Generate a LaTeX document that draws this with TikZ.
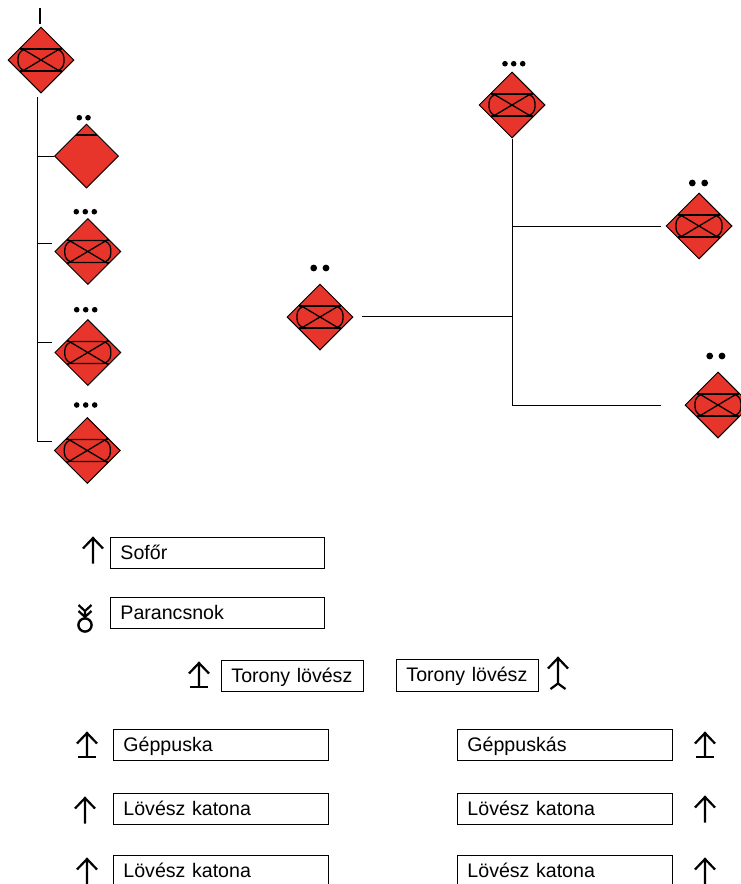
\documentclass[tikz,border=0pt]{standalone}
\usepackage{fontspec}
\setmainfont{Liberation Sans}
\usetikzlibrary{shapes.geometric}
\definecolor{unitred}{HTML}{E8352B}
\tikzset{
  x=1pt,y=-1pt,
  unitbase/.style={diamond,shape aspect=1,draw=black,line width=1pt,fill=unitred,inner sep=0pt,minimum width=66pt,minimum height=66pt},
  tankunit/.style={unitbase,path picture={
    \begin{scope}[line width=1.3pt]
      \draw[rounded corners=9pt] (-23,-11) rectangle (23,11);
      \draw (-21,-12.5) -- (21,12.5) (-21,12.5) -- (21,-12.5);
      \draw (-21,-11) -- (21,-11) (-21,11) -- (21,11);
    \end{scope}}},
  capunit/.style={unitbase,minimum width=64pt,minimum height=64pt,path picture={
    \draw[line width=1.4pt] (-12,-21) -- (12,-21);}},
  linkline/.style={line width=.9pt,draw=black},
  rolebox/.style={draw=black,line width=.9pt,anchor=north west,inner xsep=10pt,inner ysep=0pt,align=left,
    text height=13.5pt,text depth=0pt,font=\fontsize{19.6pt}{20pt}\selectfont},
  dotthree/.style={circle,fill=black,inner sep=0pt,minimum size=5.6pt},
  dottwo/.style={circle,fill=black,inner sep=0pt,minimum size=6.8pt},
  glyph/.style={line width=2.2pt,draw=black},
  rifle/.pic={\draw[glyph] (0,0) -- (0,25.5) (-10,10.5) -- (0,0) -- (10,10.5);},
  mgun/.pic={\draw[glyph] (0,0) -- (0,24) (-10,10.5) -- (0,0) -- (10,10.5);\draw[line width=2.8pt] (-9,24) -- (9,24);},
  tworev/.pic={\draw[glyph] (0,0) -- (0,26) (-10,10.5) -- (0,0) -- (10,10.5) (-7.5,31) -- (0,25.5) -- (7.5,31);},
  cmdsym/.pic={\draw[glyph] (-6.5,0) -- (0,6) -- (6.5,0) (-6.5,6) -- (0,12) -- (6.5,6) (0,6) -- (0,14);\draw[line width=2.4pt] (0,20) circle (6.6);}
}
\begin{document}
\begin{tikzpicture}
\useasboundingbox (0,0) rectangle (741,884);
\clip (0,0) rectangle (741,884);
% left tree
\node[tankunit] (a0) at (41,60) {};
\node[capunit] (a1) at (86.5,156) {};
\node[tankunit] (a2) at (87.8,251.5) {};
\node[tankunit] (a3) at (87.8,352.5) {};
\node[tankunit] (a4) at (87.3,450.5) {};
\draw[line width=2pt] (40,8) -- (40,24);
\coordinate (ttop) at (37,97);
\coordinate (t1) at (37,156);
\coordinate (t2) at (37,243);
\coordinate (t3) at (37,342);
\coordinate (t4) at (37,441);
\coordinate (e2) at (52,243);
\coordinate (e3) at (52,342);
\coordinate (e4) at (52,441);
\draw[linkline] (ttop) -- (t4) -- (e4);
\draw[linkline] (t1) -- (a1.west);
\draw[linkline] (t2) -- (e2);
\draw[linkline] (t3) -- (e3);
% right tree
\node[tankunit] (b0) at (512,105) {};
\node[tankunit] (b1) at (699,226) {};
\node[tankunit] (b2) at (320,317) {};
\node[tankunit] (b3) at (718,405) {};
\coordinate (r1) at (512,226);
\coordinate (r2) at (512,316);
\coordinate (r3) at (512,405);
\coordinate (e5) at (661,226);
\coordinate (e6) at (661,405);
\coordinate (e7) at (362,316);
\draw[linkline] (b0.south) -- (r3) -- (e6);
\draw[linkline] (r1) -- (e5);
\draw[linkline] (e7) -- (r2);
% echelon dots
\foreach \x/\y in {76.3/211.7,85.3/211.7,94.3/211.7, 76.7/309.7,85.7/309.7,94.7/309.7, 76.7/405,85.7/405,94.7/405, 505/63.7,513.7/63.7,522.7/63.7}
  \node[dotthree] at (\x,\y) {};
\foreach \x/\y in {313.7/268,326/268, 692.3/183,704.7/183, 709.7/356,722/356}
  \node[dottwo] at (\x,\y) {};
\node[dotthree] at (79.3,117.7) {};
\node[dotthree] at (88,117.7) {};
% roles
\node[rolebox,text width=193.8pt,minimum height=30.5pt] (s1) at (110,537) {Sofőr};
\node[rolebox,text width=193.8pt,minimum height=30.5pt] (s2) at (110,597) {Parancsnok};
\node[rolebox,text width=121.8pt,minimum height=30.5pt] (s3) at (221,660) {Torony lövész};
\node[rolebox,text width=121.8pt,minimum height=31.5pt] (s4) at (396,659) {Torony lövész};
\node[rolebox,text width=194.8pt,minimum height=30.5pt] (s5) at (113,729) {Géppuska};
\node[rolebox,text width=194.8pt,minimum height=30.5pt] (s6) at (113,793) {Lövész katona};
\node[rolebox,text width=194.8pt,minimum height=30.5pt] (s7) at (113,855) {Lövész katona};
\node[rolebox,text width=194.8pt,minimum height=30.5pt] (s8) at (457,729) {Géppuskás};
\node[rolebox,text width=194.8pt,minimum height=30.5pt] (s9) at (457,793) {Lövész katona};
\node[rolebox,text width=194.8pt,minimum height=30.5pt] (s10) at (457,855) {Lövész katona};
\pic at (93,538) {rifle};
\pic at (85,605) {cmdsym};
\pic at (199,663) {mgun};
\pic at (558,658) {tworev};
\pic at (87,733) {mgun};
\pic at (85,798) {rifle};
\pic at (87,859) {rifle};
\pic at (705,733) {mgun};
\pic at (705,797) {rifle};
\pic at (705,859) {rifle};
\end{tikzpicture}
\end{document}
